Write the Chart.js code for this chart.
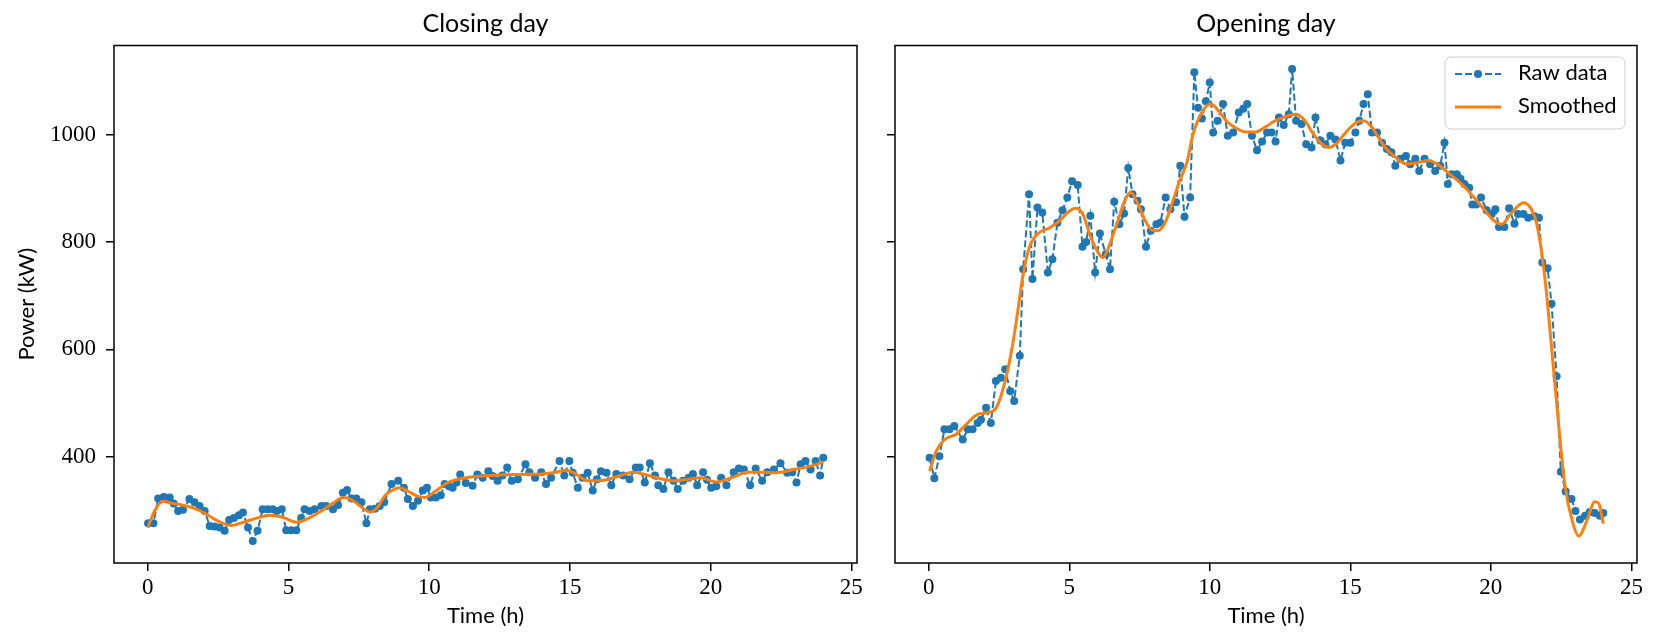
<!DOCTYPE html>
<html>
<head>
<meta charset="utf-8">
<script src="https://cdn.jsdelivr.net/npm/chart.js@4.4.0/dist/chart.umd.min.js"></script>
<style>
  html, body { margin: 0; padding: 0; background: #fff; }
  #wrap { position: relative; width: 1657px; height: 637px; }
  canvas { position: absolute; top: 0; }
  #closingChart { left: 0; }
  #openingChart { left: 870px; }
</style>
</head>
<body>
<div id="wrap">
  <canvas id="closingChart" width="870" height="637"></canvas>
  <canvas id="openingChart" width="787" height="637"></canvas>
</div>
<script>
// ---- data ----
const xTicks = [0, 5, 10, 15, 20, 25];
const yTicks = [400, 600, 800, 1000];

const closingTime = [
  0.01, 0.20, 0.37, 0.57, 0.78, 0.92, 1.08, 1.25, 1.48, 1.66,
  1.84, 2.02, 2.20, 2.37, 2.55, 2.73, 2.89, 3.06, 3.24, 3.38,
  3.56, 3.73, 3.90, 4.08, 4.26, 4.44, 4.58, 4.76, 4.92, 5.10,
  5.28, 5.45, 5.57, 5.75, 5.93, 6.17, 6.34, 6.58, 6.76, 6.93,
  7.08, 7.24, 7.41, 7.59, 7.77, 7.89, 8.07, 8.24, 8.40, 8.66,
  8.90, 9.10, 9.24, 9.42, 9.60, 9.77, 9.92, 10.06, 10.24, 10.41,
  10.55, 10.70, 10.83, 10.97, 11.10, 11.30, 11.54, 11.71, 11.90, 12.10,
  12.25, 12.43, 12.60, 12.77, 12.93, 13.15, 13.42, 13.56, 13.76, 13.98,
  14.15, 14.33, 14.63, 14.80, 14.98, 15.10, 15.28, 15.45, 15.63, 15.81,
  15.96, 16.10, 16.30, 16.47, 16.65, 16.89, 17.12, 17.34, 17.48, 17.66,
  17.84, 18.02, 18.14, 18.32, 18.50, 18.68, 18.83, 19.02, 19.22, 19.37,
  19.52, 19.73, 19.87, 20.02, 20.20, 20.37, 20.56, 20.82, 21.00, 21.18,
  21.40, 21.60, 21.83, 22.01, 22.25, 22.48, 22.72, 22.90, 23.05, 23.20,
  23.37, 23.55, 23.73, 23.89, 24.00
];
const closingRaw = [
  276, 276, 322, 325, 324, 313, 299, 301, 321, 315,
  308, 299, 271, 270, 268, 262, 282, 286, 291, 296,
  268, 243, 262, 302, 302, 302, 299, 302, 263, 263,
  263, 286, 302, 299, 302, 308, 308, 302, 310, 333,
  338, 322, 322, 315, 276, 302, 303, 308, 315, 349,
  355, 342, 321, 308, 318, 337, 342, 324, 324, 328,
  349, 345, 342, 352, 367, 351, 346, 367, 361, 373,
  364, 355, 365, 380, 355, 358, 386, 371, 361, 371,
  349, 361, 392, 365, 392, 370, 342, 361, 370, 337,
  358, 373, 370, 347, 368, 365, 358, 380, 380, 352,
  388, 365, 347, 340, 371, 355, 340, 355, 361, 368,
  347, 371, 357, 342, 345, 361, 347, 371, 378, 376,
  347, 378, 355, 371, 376, 388, 370, 371, 352, 386,
  392, 376, 392, 365, 398
];
const closingSmoothTime = [
  0.00, 0.25, 0.54, 0.80, 1.37, 1.70, 2.08, 2.50, 2.97, 3.40,
  3.90, 4.33, 4.80, 5.28, 5.70, 6.20, 6.60, 6.94, 7.30, 7.60,
  7.89, 8.15, 8.42, 8.70, 8.95, 9.30, 9.60, 9.84, 10.20, 10.67,
  11.20, 11.85, 12.50, 13.28, 14.00, 14.50, 14.87, 15.20, 15.64, 16.00,
  16.30, 16.80, 17.24, 17.80, 18.30, 18.68, 19.20, 19.63, 20.22, 20.80,
  21.30, 21.80, 22.25, 22.96, 23.50, 24.00
];
const closingSmooth = [
  268, 300, 317, 314, 308, 303, 293, 280, 272, 278,
  286, 291, 287, 278, 285, 300, 314, 324, 318, 306,
  297, 305, 327, 338, 342, 334, 326, 324, 335, 352,
  360, 364, 366, 367, 368, 371, 375, 368, 355, 355,
  357, 365, 371, 365, 358, 355, 358, 361, 353, 362,
  371, 371, 370, 376, 382, 390
];

const openingTime = [
  0.03, 0.20, 0.38, 0.56, 0.74, 0.91, 1.21, 1.39, 1.56, 1.74,
  1.86, 2.04, 2.21, 2.39, 2.57, 2.72, 2.90, 3.04, 3.24, 3.36,
  3.57, 3.69, 3.87, 4.04, 4.24, 4.40, 4.58, 4.76, 4.93, 5.10,
  5.30, 5.47, 5.60, 5.75, 5.92, 6.09, 6.30, 6.45, 6.60, 6.78,
  6.95, 7.10, 7.25, 7.43, 7.55, 7.73, 7.90, 8.10, 8.24, 8.43,
  8.60, 8.80, 8.95, 9.10, 9.30, 9.45, 9.58, 9.72, 9.86, 10.00,
  10.12, 10.28, 10.47, 10.64, 10.83, 11.03, 11.19, 11.33, 11.50, 11.68,
  11.86, 12.04, 12.20, 12.34, 12.46, 12.63, 12.81, 12.93, 13.07, 13.26,
  13.43, 13.62, 13.76, 13.94, 14.11, 14.29, 14.47, 14.65, 14.82, 15.00,
  15.18, 15.32, 15.47, 15.62, 15.77, 15.95, 16.13, 16.30, 16.46, 16.60,
  16.78, 16.98, 17.13, 17.31, 17.45, 17.64, 17.84, 18.02, 18.20, 18.35,
  18.47, 18.61, 18.79, 18.92, 19.06, 19.23, 19.34, 19.48, 19.65, 19.85,
  20.03, 20.16, 20.29, 20.48, 20.65, 20.84, 20.97, 21.16, 21.33, 21.55,
  21.71, 21.83, 22.02, 22.16, 22.34, 22.49, 22.66, 22.87, 23.01, 23.17,
  23.35, 23.52, 23.70, 23.88, 24.00
];
const openingRaw = [
  398, 360, 401, 451, 451, 457, 432, 451, 451, 463,
  469, 491, 463, 541, 547, 563, 522, 504, 588, 749,
  889, 731, 864, 855, 743, 768, 836, 859, 883, 913,
  906, 791, 800, 849, 743, 816, 777, 749, 875, 833,
  853, 938, 889, 877, 861, 791, 821, 833, 836, 883,
  861, 874, 942, 847, 883, 1116, 1050, 1030, 1062, 1097,
  1004, 1026, 1057, 998, 1004, 1041, 1048, 1057, 998, 971,
  987, 1004, 1004, 987, 1032, 1018, 1038, 1122, 1026, 1020,
  982, 976, 1032, 989, 982, 998, 991, 952, 985, 985,
  1004, 1026, 1057, 1075, 1004, 1004, 985, 973, 967, 942,
  955, 960, 945, 955, 932, 955, 945, 932, 942, 985,
  908, 926, 926, 918, 908, 901, 870, 870, 883, 859,
  852, 861, 828, 828, 863, 834, 852, 852, 845, 848,
  845, 762, 751, 685, 550, 372, 335, 321, 299, 283,
  290, 297, 295, 290, 295
];
const openingSmoothTime = [
  0.03, 0.27, 0.56, 0.98, 1.33, 1.74, 2.10, 2.40, 2.69, 2.99,
  3.17, 3.34, 3.58, 3.87, 4.29, 4.64, 4.94, 5.22, 5.48, 5.77,
  6.07, 6.20, 6.40, 6.70, 7.00, 7.19, 7.45, 7.70, 7.95, 8.14,
  8.40, 8.65, 8.90, 9.20, 9.40, 9.70, 10.03, 10.30, 10.60, 11.00,
  11.30, 11.63, 12.00, 12.30, 12.63, 13.05, 13.35, 13.70, 14.00, 14.23,
  14.50, 14.85, 15.20, 15.47, 15.75, 16.00, 16.24, 16.60, 17.01, 17.40,
  17.78, 18.10, 18.50, 19.02, 19.40, 19.80, 20.10, 20.39, 20.70, 21.16,
  21.45, 21.65, 21.92, 22.28, 22.63, 22.93, 23.13, 23.41, 23.70, 23.85,
  24.00
];
const openingSmooth = [
  373, 411, 432, 442, 460, 479, 482, 491, 535, 610,
  672, 734, 790, 815, 826, 839, 855, 863, 852, 808,
  777, 771, 790, 835, 880, 892, 870, 840, 822, 821,
  835, 870, 910, 951, 1000, 1040, 1057, 1045, 1025, 1010,
  1005, 1005, 1015, 1025, 1032, 1038, 1028, 1000, 982, 976,
  983, 1005, 1022, 1026, 1015, 995, 976, 958, 945, 948,
  952, 945, 928, 905, 883, 858, 840, 833, 852, 873,
  860, 830, 734, 535, 349, 274, 252, 280, 316, 312,
  275
];

const BLUE = '#1f77b4';
const ORANGE = '#ff7f0e';
const SANS = 'Lato';
const SERIF = 'Liberation Serif';

Chart.defaults.font.family = SANS;
Chart.defaults.color = '#000';

function pairs(xs, ys) {
  return xs.map((x, i) => ({ x: x, y: ys[i] }));
}

// axes box drawn over the lines, like matplotlib spines
const frame = {
  id: 'frame',
  afterDatasetsDraw(chart) {
    const { ctx, chartArea: a } = chart;
    ctx.save();
    ctx.strokeStyle = '#000';
    ctx.lineWidth = 1.5;
    ctx.strokeRect(a.left, a.top, a.right - a.left, a.bottom - a.top);
    ctx.restore();
  }
};

const boxLegend = {
  id: 'boxLegend',
  afterDraw(chart) {
    const { ctx, chartArea: a } = chart;
    const w = 180, h = 72;
    const x0 = a.right - 12 - w, y0 = a.top + 11.5;
    ctx.save();
    ctx.beginPath();
    ctx.roundRect(x0, y0, w, h, 6);
    ctx.fillStyle = 'rgba(255,255,255,0.8)';
    ctx.fill();
    ctx.strokeStyle = '#cccccc';
    ctx.lineWidth = 1;
    ctx.stroke();

    chart.data.datasets.slice().sort((p, q) => q.order - p.order).forEach((ds, i) => {
      const yy = y0 + 17 + i * 33;
      ctx.beginPath();
      ctx.setLineDash(ds.borderDash || []);
      ctx.strokeStyle = ds.borderColor;
      ctx.lineWidth = ds.borderWidth;
      ctx.moveTo(x0 + 10, yy);
      ctx.lineTo(x0 + 56, yy);
      ctx.stroke();
      ctx.setLineDash([]);
      if (ds.pointRadius > 0) {
        ctx.beginPath();
        ctx.arc(x0 + 33, yy, ds.pointRadius, 0, Math.PI * 2);
        ctx.fillStyle = ds.pointBackgroundColor;
        ctx.fill();
      }
      ctx.fillStyle = '#000';
      ctx.font = '22px ' + SANS;
      ctx.textBaseline = 'middle';
      ctx.textAlign = 'left';
      ctx.fillText(ds.label, x0 + 73, yy - 1);
    });
    ctx.restore();
  }
};

function makeChart(id, title, rawT, rawV, smT, smV, showY) {
  const plugins = [frame];
  if (!showY) plugins.push(boxLegend);
  return new Chart(document.getElementById(id), {
    type: 'line',
    data: {
      datasets: [{
        label: 'Raw data',
        data: pairs(rawT, rawV),
        borderColor: BLUE,
        borderWidth: 2,
        borderDash: [7, 3],
        pointRadius: 4,
        pointBackgroundColor: BLUE,
        pointBorderWidth: 0,
        tension: 0,
        order: 1
      }, {
        label: 'Smoothed',
        data: pairs(smT, smV),
        borderColor: ORANGE,
        borderWidth: 3,
        pointRadius: 0,
        cubicInterpolationMode: 'monotone',
        order: 0
      }]
    },
    options: {
      responsive: false,
      animation: false,
      devicePixelRatio: 1,
      events: [],
      layout: { padding: { left: 0, right: showY ? 13 : 20, top: 0, bottom: 0 } },
      plugins: {
        legend: { display: false },
        tooltip: { enabled: false },
        title: {
          display: true,
          text: title,
          fullSize: false,
          color: '#000',
          font: { family: SANS, size: 25, weight: 'normal' },
          padding: { top: 9, bottom: 6.5 }
        }
      },
      scales: {
        x: {
          type: 'linear',
          min: -1.2,
          max: 25.2,
          afterBuildTicks: (s) => { s.ticks = xTicks.map(v => ({ value: v })); },
          afterFit: (s) => { s.height = 74; },
          border: { display: false },
          grid: {
            drawOnChartArea: false,
            drawTicks: true,
            tickLength: 8,
            color: '#000',
            lineWidth: 1.5
          },
          ticks: {
            font: { family: SERIF, size: 23 },
            color: '#000',
            padding: 3,
            maxRotation: 0,
            autoSkip: false,
            callback: (v) => String(v)
          },
          title: {
            display: true,
            text: 'Time (h)',
            color: '#000',
            font: { family: SANS, size: 22 },
            padding: { top: 0, bottom: 8 }
          }
        },
        y: {
          type: 'linear',
          min: 202,
          max: 1166,
          afterBuildTicks: (s) => { s.ticks = yTicks.map(v => ({ value: v })); },
          afterFit: (s) => { s.width = showY ? 114 : 25; },
          border: { display: false },
          grid: {
            drawOnChartArea: false,
            drawTicks: true,
            tickLength: 8,
            color: '#000',
            lineWidth: 1.5
          },
          ticks: {
            display: showY,
            font: { family: SERIF, size: 23 },
            color: '#000',
            padding: 10,
            callback: (v) => String(v)
          },
          title: {
            display: showY,
            text: 'Power (kW)',
            color: '#000',
            font: { family: SANS, size: 22 },
            padding: { top: 14, bottom: 0 }
          }
        }
      }
    },
    plugins: plugins
  });
}

makeChart('closingChart', 'Closing day', closingTime, closingRaw, closingSmoothTime, closingSmooth, true);
makeChart('openingChart', 'Opening day', openingTime, openingRaw, openingSmoothTime, openingSmooth, false);
</script>
</body>
</html>
